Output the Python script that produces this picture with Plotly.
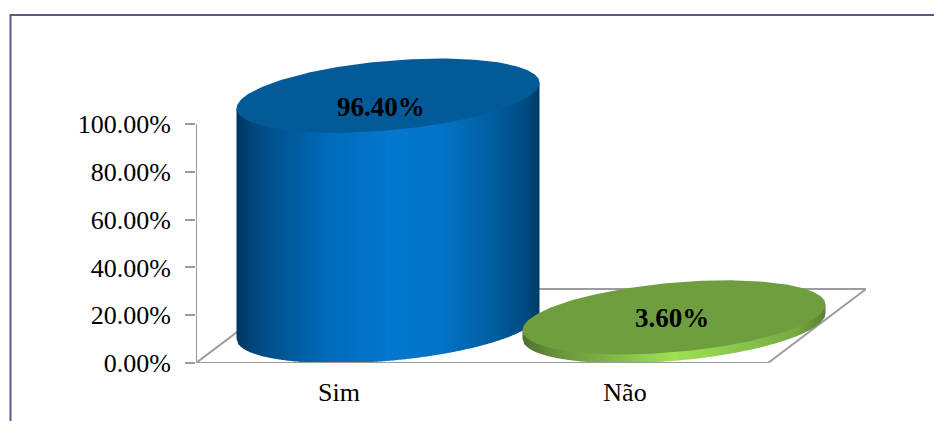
import numpy as np
import plotly.graph_objects as go

categories = ["Sim", "Não"]
values = [96.40, 3.60]
value_labels = ["96.40%", "3.60%"]
y_ticks = [0, 20, 40, 60, 80, 100]
y_tick_labels = ["0.00%", "20.00%", "40.00%", "60.00%", "80.00%", "100.00%"]

# page geometry (px)
W, H = 934, 421
LEFT, RIGHT, TOP, BOTTOM = 196, 866, 30, 363
PX_X = 286.0            # px per category
PX_Y = 2.39             # px per percent
X_RANGE = [-0.5, -0.5 + (RIGHT - LEFT) / PX_X]
Y_RANGE = [0, (BOTTOM - TOP) / PX_Y]

# fake 3D floor
DEPTH_X = 98 / PX_X
DEPTH_Y = 74 / PX_Y
FLOOR_R = 1.5
GRID = "#9c9c9c"
FONT = "Liberation Serif"

# cylinder shape
RX = 151.5 / PX_X
RY = 34.8 / PX_Y
SKEW = 12.8 / PX_Y

BLUE_STOPS = [(0, "#00365f"), (.05, "#00467a"), (.13, "#005390"), (.3, "#006bb9"),
              (.52, "#0478d0"), (.68, "#0373c6"), (.85, "#025e9f"), (.95, "#004c84"), (1, "#003a66")]
GREEN_STOPS = [(0, "#4f7030"), (.1, "#66903a"), (.3, "#82b848"), (.5, "#9fe055"),
               (.7, "#8cc84c"), (.9, "#77a943"), (1, "#5b7f33")]
CAPS = ["#035a98", "#6f9e3f"]
LABEL_SHIFT = [(-7.5, -11), (-2.5, -1)]


def hexrgb(c):
    return np.array([int(c[i:i + 2], 16) for i in (1, 3, 5)], float)


def ramp(stops, t):
    ps = [s[0] for s in stops]
    cs = np.array([hexrgb(s[1]) for s in stops])
    rgb = [np.interp(t, ps, cs[:, k]) for k in range(3)]
    return "rgb(%d,%d,%d)" % tuple(round(v) for v in rgb)


fig = go.Figure()


def line(xs, ys, width=2):
    fig.add_trace(go.Scatter(x=xs, y=ys, mode="lines", line=dict(color=GRID, width=width),
                             hoverinfo="skip", showlegend=False, cliponaxis=False))


# floor back, sides
line([-0.5, -0.5 + DEPTH_X, FLOOR_R + DEPTH_X, FLOOR_R], [0, DEPTH_Y, DEPTH_Y, 0])
# value axis
line([-0.5, -0.5], [0, 100])


def cylinder(i, value, stops, cap, n=150):
    cx = i + DEPTH_X / 2
    base = DEPTH_Y / 2
    edges = np.linspace(-1, 1, n + 1)
    sub = 1.0 / PX_X / RX
    for a, b in zip(edges[:-1], edges[1:]):
        b2 = min(b + sub, 1)
        us = np.linspace(a, b2, 4)
        low = base + SKEW * us - RY * np.sqrt(np.clip(1 - us ** 2, 0, 1))
        up = base + value + SKEW * us
        fig.add_trace(go.Scatter(
            x=np.r_[cx + RX * us, cx + RX * us[::-1]],
            y=np.r_[low, up[::-1]],
            mode="lines", line=dict(width=0), fill="toself",
            fillcolor=ramp(stops, (a + b + 2) / 4),
            hoverinfo="skip", showlegend=False, cliponaxis=False))
    t = np.linspace(0, 2 * np.pi, 241)
    u = np.cos(t)
    fig.add_trace(go.Scatter(
        x=cx + RX * u, y=base + value + SKEW * u + RY * np.sin(t),
        mode="lines", line=dict(width=0), fill="toself", fillcolor=cap,
        hoverinfo="skip", showlegend=False, cliponaxis=False))


cylinder(0, values[0], BLUE_STOPS, CAPS[0])
cylinder(1, values[1], GREEN_STOPS, CAPS[1], n=150)

# floor front edge (category axis)
line([-0.5, FLOOR_R], [0, 0])

annotations = []
for i, (v, lab) in enumerate(zip(values, value_labels)):
    annotations.append(dict(
        x=i + DEPTH_X / 2, y=v + DEPTH_Y / 2, text="<b>%s</b>" % lab, showarrow=False,
        xshift=LABEL_SHIFT[i][0], yshift=LABEL_SHIFT[i][1],
        font=dict(family=FONT, size=27, color="black")))

frame = dict(type="path", xref="paper", yref="paper",
             path="M %f %f L %f %f L %f %f" % (
                 (10.5 - LEFT) / (RIGHT - LEFT), (BOTTOM - 425) / (BOTTOM - TOP),
                 (10.5 - LEFT) / (RIGHT - LEFT), (BOTTOM - 15) / (BOTTOM - TOP),
                 (940 - LEFT) / (RIGHT - LEFT), (BOTTOM - 15) / (BOTTOM - TOP)),
             line=dict(color="#67528f", width=2))

fig.update_layout(
    width=W, height=H, autosize=False,
    margin=dict(l=LEFT, r=W - RIGHT, t=TOP, b=H - BOTTOM, pad=0, autoexpand=False),
    paper_bgcolor="white", plot_bgcolor="rgba(0,0,0,0)",
    showlegend=False, annotations=annotations, shapes=[frame],
    xaxis=dict(range=X_RANGE, tickmode="array", tickvals=[0, 1], ticktext=categories,
               showgrid=False, zeroline=False, showline=False, automargin=False,
               ticks="outside", ticklen=6, tickcolor="rgba(0,0,0,0)",
               tickfont=dict(family=FONT, size=26, color="black")),
    yaxis=dict(range=Y_RANGE, tickmode="array", tickvals=y_ticks, ticktext=y_tick_labels,
               showgrid=False, zeroline=False, showline=False, automargin=False,
               ticks="outside", ticklen=10, tickwidth=2, tickcolor=GRID, ticklabelstandoff=9,
               tickfont=dict(family=FONT, size=26, color="black")),
)

fig.write_html("out.html", config={"displayModeBar": False},
               post_script="document.body.style.margin='0';")
